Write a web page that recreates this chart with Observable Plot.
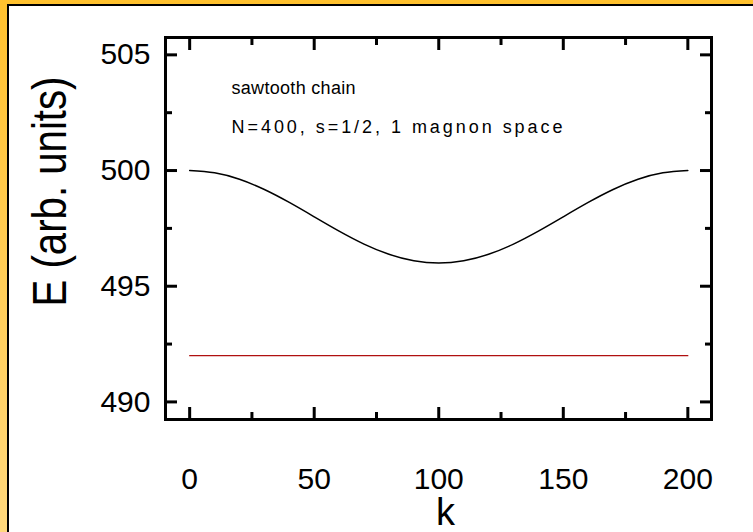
<!DOCTYPE html>
<html><head><meta charset="utf-8">
<script src="https://cdn.jsdelivr.net/npm/d3@7"></script>
<script src="https://cdn.jsdelivr.net/npm/@observablehq/plot@0.6"></script>
<style>
html,body{margin:0;padding:0;background:#fff;}
#outer{width:753px;height:532px;box-sizing:border-box;padding:4px 0 0 7px;background:linear-gradient(#FFC12E,#FFD87C);overflow:hidden;}
#inner{width:746px;height:528px;box-sizing:border-box;border-top:2px solid #000;border-left:2px solid #000;background:#fff;}
svg{display:block}
</style></head><body>
<div id="outer"><div id="inner"></div></div>
<script>
// wave vector k
const kValues = [0,10,20,30,40,50,60,70,80,90,100,110,120,130,140,150,160,170,180,190,200];
// dispersive band
const upperBand = [500.00,499.90,499.62,499.18,498.62,498.00,497.38,496.82,496.38,496.10,496.00,496.10,496.38,496.82,497.38,498.00,498.62,499.18,499.62,499.90,500.00];
// flat band
const flatBand = [492,492,492,492,492,492,492,492,492,492,492,492,492,492,492,492,492,492,492,492,492];
const xTicks = [0,50,100,150,200];
const xMinorTicks = [25,75,125,175];
const yTicks = [490,495,500,505];
const yMinorTicks = [492.5,497.5,502.5];
const xLabel = "k";
const yLabel = "E (arb. units)";
const noteLines = ["sawtooth chain", "N=400, s=1/2, 1 magnon space"];

const font = "'Liberation Sans',Arial,sans-serif";
const upper = kValues.map((k,i)=>({k, E: upperBand[i]}));
const flat = kValues.map((k,i)=>({k, E: flatBand[i]}));

const tickStyle = {strokeWidth:3, fill:"none", label:null, stroke:"black"};
const chart = Plot.plot({
  width: 744, height: 526,
  marginLeft: 156, marginRight: 42, marginTop: 31, marginBottom: 113,
  style: {fontFamily: font, background: "white", color: "black"},
  x: {domain: [-9.7, 209.5]},
  y: {domain: [489.24, 505.75]},
  marks: [
    Plot.axisX(xTicks, {anchor:"bottom", tickSize:-12, ...tickStyle}),
    Plot.axisX(xMinorTicks, {anchor:"bottom", tickSize:-7, ...tickStyle}),
    Plot.axisX(xTicks, {anchor:"top", tickSize:-12, ...tickStyle}),
    Plot.axisX(xMinorTicks, {anchor:"top", tickSize:-7, ...tickStyle}),
    Plot.axisY(yTicks, {anchor:"left", tickSize:-12, ...tickStyle}),
    Plot.axisY(yMinorTicks, {anchor:"left", tickSize:-7, ...tickStyle}),
    Plot.axisY(yTicks, {anchor:"right", tickSize:-12, ...tickStyle}),
    Plot.axisY(yMinorTicks, {anchor:"right", tickSize:-7, ...tickStyle}),
    Plot.axisX(xTicks, {anchor:"bottom", tickSize:0, tickPadding:48, fontSize:30, label:null, fill:"black"}),
    Plot.axisY(yTicks, {anchor:"left", tickSize:0, tickPadding:15, fontSize:30, label:null, fill:"black"}),
    Plot.frame({strokeWidth:3, stroke:"black"}),
    Plot.line(flat, {x:"k", y:"E", stroke:"#b01010", strokeWidth:1.2}),
    Plot.line(upper, {x:"k", y:"E", stroke:"black", strokeWidth:1.5, curve:"natural"}),
    Plot.text([xLabel], {frameAnchor:"bottom", text:d=>d, dx:7, dy:93, fontSize:38, textAnchor:"middle", lineAnchor:"middle"}),
    Plot.text([yLabel], {frameAnchor:"left", text:d=>d, rotate:-90, dx:-115, dy:-37, fontSize:48, textAnchor:"middle", lineAnchor:"middle"}),
    Plot.text([noteLines[0]], {frameAnchor:"top-left", text:d=>d, dx:66, dy:51, fontSize:18, textAnchor:"start", lineAnchor:"middle"}),
    Plot.text([noteLines[1]], {frameAnchor:"top-left", text:d=>d, dx:66, dy:90, fontSize:18, textAnchor:"start", lineAnchor:"middle"})
  ]
});
// condensed / letter-spaced lettering like the original
const sel = d3.select(chart).selectAll("text");
sel.filter(function(){return this.textContent === yLabel;}).attr("textLength", 230).attr("lengthAdjust", "spacingAndGlyphs");
sel.filter(function(){return this.textContent === noteLines[0];}).attr("textLength", 124).attr("lengthAdjust", "spacing");
sel.filter(function(){return this.textContent === noteLines[1];}).attr("textLength", 331).attr("lengthAdjust", "spacing");
document.getElementById("inner").appendChild(chart);
</script>
</body></html>
